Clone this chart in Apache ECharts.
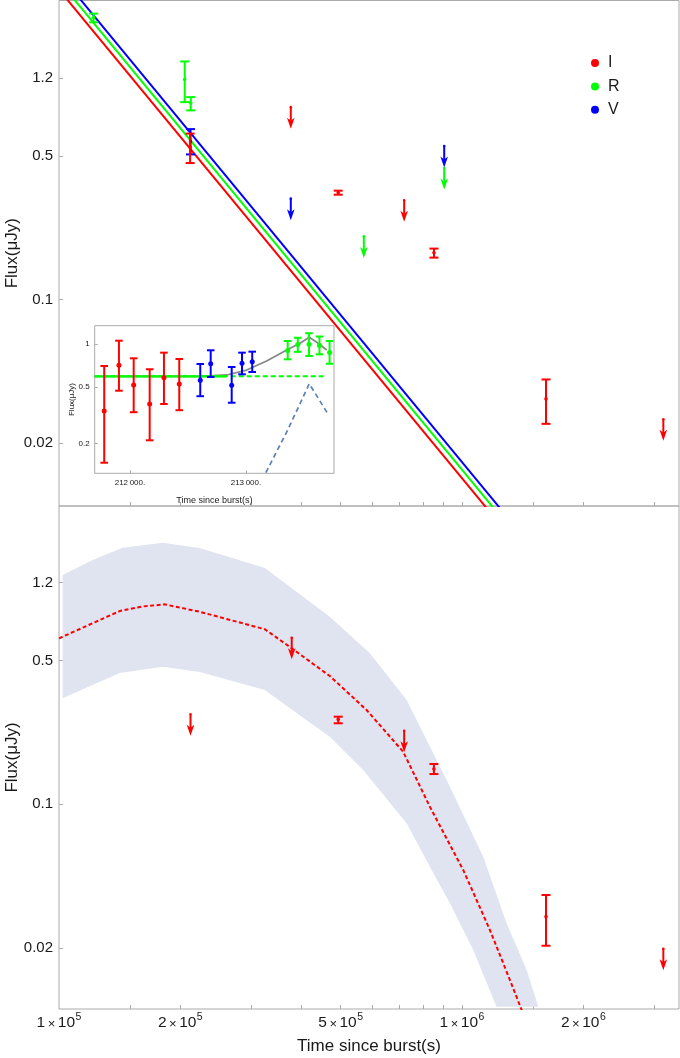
<!DOCTYPE html>
<html><head><meta charset="utf-8">
<script src="https://cdn.jsdelivr.net/npm/echarts@6/dist/echarts.min.js"></script>
<style>html,body{margin:0;padding:0;background:#fff}#c{width:680px;height:1058px}</style>
</head><body><div id="c"></div>
<script>
// ---------------- DATA ----------------
// axis ticks
const xTickVals = [1.5e5, 2e5, 3e5, 4e5, 5e5, 6e5, 7e5, 8e5, 9e5, 1e6, 1.5e6, 2e6, 3e6];
const xLabelVals = [1e5, 2e5, 5e5, 1e6, 2e6];
const yLabelVals = [0.02, 0.1, 0.5, 1.2];
const insetXLabelVals = [212000, 213000];
const insetYLabelVals = [0.2, 0.5, 1];

// top panel: power-law fits (two end points each, clipped by the axes)
const fitTimes = [1.0e5, 1.3e6];
const fitI = [3.23, 0.00722];
const fitR = [3.56, 0.00794];
const fitV = [3.87, 0.00865];

// top panel detections: [time, flux, low, high]
const topI = [[2.115e5, 0.553, 0.462, 0.643], [4.93e5, 0.332, 0.324, 0.339], [8.52e5, 0.169, 0.160, 0.177], [1.616e6, 0.0328, 0.0248, 0.0408]];
const topR = [[1.219e5, 2.36, 2.24, 2.47], [2.051e5, 1.18, 0.915, 1.444], [2.123e5, 0.905, 0.834, 0.968]];
const topV = [[2.12e5, 0.59, 0.509, 0.676]];
// top panel upper limits: [time, flux]
const topIUL = [[3.76e5, 0.865], [7.186e5, 0.304], [3.159e6, 0.0261]];
const topRUL = [[5.707e5, 0.203], [9.033e5, 0.437]];
const topVUL = [[3.76e5, 0.310], [9.033e5, 0.559]];

// bottom panel
const botI = [[4.93e5, 0.259, 0.248, 0.267], [8.517e5, 0.1485, 0.1404, 0.1571], [1.616e6, 0.0284, 0.0205, 0.0362]];
const botIUL = [[2.12e5, 0.274], [3.78e5, 0.647], [7.186e5, 0.228], [3.159e6, 0.0198]];
const modelT = [1.0e5, 1.192e5, 1.415e5, 1.604e5, 1.83e5, 2.235e5, 3.242e5, 3.782e5, 4.699e5, 5.797e5, 7.145e5, 8.324e5, 1.007e6, 1.173e6, 1.315e6, 1.406e6, 1.474e6];
const modelF = [0.642, 0.750, 0.872, 0.917, 0.940, 0.865, 0.711, 0.574, 0.421, 0.2877, 0.1803, 0.0973, 0.0479, 0.02445, 0.01396, 0.00998, 0.00754];
const bandUpT = [1.021e5, 1.212e5, 1.439e5, 1.809e5, 2.235e5, 3.242e5, 4.699e5, 5.906e5, 7.287e5, 9.16e5, 1.129e6, 1.29e6, 1.447e6, 1.546e6];
const bandUpF = [1.306, 1.545, 1.773, 1.875, 1.767, 1.412, 0.818, 0.543, 0.322, 0.1313, 0.0556, 0.02636, 0.01562, 0.01035];
const bandLoT = [1.021e5, 1.415e5, 1.809e5, 2.235e5, 3.242e5, 3.74e5, 4.699e5, 5.684e5, 7.287e5, 8.324e5, 9.333e5, 1.066e6, 1.218e6];
const bandLoF = [0.328, 0.4355, 0.467, 0.4405, 0.3598, 0.2933, 0.2133, 0.1469, 0.0808, 0.0497, 0.033, 0.01954, 0.01035];

// inset
const insetI = [[211778, 0.338, 0.146, 0.700], [211905, 0.708, 0.469, 1.055], [212032, 0.515, 0.331, 0.793], [212170, 0.378, 0.210, 0.664], [212293, 0.579, 0.378, 0.869], [212425, 0.523, 0.342, 0.784]];
const insetV = [[212606, 0.555, 0.429, 0.723], [212696, 0.727, 0.586, 0.903], [212877, 0.512, 0.386, 0.689], [212966, 0.732, 0.612, 0.869], [213054, 0.751, 0.635, 0.883]];
const insetR = [[213360, 0.900, 0.780, 1.05], [213447, 0.992, 0.881, 1.106], [213544, 0.997, 0.823, 1.191], [213634, 0.976, 0.846, 1.129], [213721, 0.871, 0.726, 1.05]];
const insetConstT = [211696, 213681];
const insetConstF = [0.5925, 0.5925];
const insetConstSolidT = [211696, 212830];
const insetTotalT = [211696, 212603, 212834, 213006, 213178, 213351, 213466, 213546, 213623, 213696];
const insetTotalF = [0.5925, 0.5925, 0.605, 0.656, 0.759, 0.907, 1.011, 1.115, 1.011, 0.907];
const insetFlareT = [213138, 213360, 213546, 213703];
const insetFlareF = [0.110, 0.248, 0.5246, 0.3253];

// ---------------- STYLE ----------------
const FONT = '"Liberation Sans", Arial, sans-serif';
const RED = '#ff0000', GREEN = '#00ff00', BLUE = '#0000ff';
const FRAME = '#aaaaaa', TXT = '#1a1a1a';
const zip = (a, b) => a.map((v, i) => [v, b[i]]);

function errBar(color, capHalf, lw, r) {
  return function (params, api) {
    const t = api.value(0);
    const c = api.coord([t, api.value(1)]);
    const lo = api.coord([t, api.value(2)]);
    const hi = api.coord([t, api.value(3)]);
    const x = c[0];
    const st = { stroke: color, lineWidth: lw };
    return { type: 'group', children: [
      { type: 'line', shape: { x1: x, y1: hi[1], x2: x, y2: lo[1] }, style: st },
      { type: 'line', shape: { x1: x - capHalf, y1: hi[1], x2: x + capHalf, y2: hi[1] }, style: st },
      { type: 'line', shape: { x1: x - capHalf, y1: lo[1], x2: x + capHalf, y2: lo[1] }, style: st },
      { type: 'circle', shape: { cx: x, cy: c[1], r: r }, style: { fill: color } }
    ] };
  };
}
function arrow(color) {
  return function (params, api) {
    const p = api.coord([api.value(0), api.value(1)]);
    const x = p[0], y = p[1];
    return { type: 'group', children: [
      { type: 'line', shape: { x1: x, y1: y, x2: x, y2: y + 14 }, style: { stroke: color, lineWidth: 2 } },
      { type: 'circle', shape: { cx: x, cy: y, r: 1.3 }, style: { fill: color } },
      { type: 'polygon', shape: { points: [[x - 3.8, y + 10.5], [x, y + 13.5], [x + 3.8, y + 10.5], [x, y + 21.5]] }, style: { fill: color } }
    ] };
  };
}
function errSeries(data, color, idx, cap, lw, r) {
  return { type: 'custom', xAxisIndex: idx, yAxisIndex: idx, data: data, encode: { x: 0, y: [1, 2, 3] },
    renderItem: errBar(color, cap, lw, r), z: 6, silent: true };
}
function ulSeries(data, color, idx) {
  return { type: 'custom', xAxisIndex: idx, yAxisIndex: idx, data: data, encode: { x: 0, y: 1 },
    renderItem: arrow(color), z: 6, silent: true };
}
function lineSeries(name, t, f, color, idx, width, type, z) {
  return { type: 'line', name: name, xAxisIndex: idx, yAxisIndex: idx, data: zip(t, f), showSymbol: false, symbol: 'none',
    clip: true, silent: true, z: z || 3, lineStyle: { color: color, width: width, type: type || 'solid' }, itemStyle: { color: color } };
}

function xLabelFmt(v) {
  const e = Math.floor(Math.log10(v) + 1e-9);
  const m = Math.round(v / Math.pow(10, e));
  return '{m|' + m + '}{x|×}{m|10}{e|' + e + '}';
}
const xRich = {
  m: { fontSize: 15.5, fontFamily: FONT, color: TXT, verticalAlign: 'bottom', lineHeight: 15 },
  x: { fontSize: 13, fontFamily: FONT, color: TXT, verticalAlign: 'bottom', lineHeight: 15, padding: [0, 2.5, 0, 2.5] },
  e: { fontSize: 10.5, fontFamily: FONT, color: TXT, verticalAlign: 'bottom', lineHeight: 10, padding: [0, 0, 8, 0.5] }
};

function mainX(gridIndex, showLabels) {
  return {
    type: 'log', gridIndex: gridIndex, min: 1e5, max: 3.455e6, logBase: 10,
    axisLine: { show: false },
    axisTick: { show: true, inside: true, length: 4, customValues: xTickVals, lineStyle: { color: FRAME } },
    axisLabel: { show: showLabels, customValues: xLabelVals, formatter: xLabelFmt, rich: xRich, margin: 7 },
    splitLine: { show: false }, minorTick: { show: false },
    name: showLabels ? 'Time since burst(s)' : '', nameLocation: 'middle', nameGap: 29, nameMoveOverlap: false,
    nameTextStyle: { fontSize: 17, fontFamily: FONT, color: TXT }
  };
}
function mainY(gridIndex, min, max) {
  return {
    type: 'log', gridIndex: gridIndex, min: min, max: max, logBase: 10,
    axisLine: { show: false },
    axisTick: { show: true, inside: true, length: 4, customValues: yLabelVals, lineStyle: { color: FRAME } },
    axisLabel: { show: true, customValues: yLabelVals, formatter: v => String(+v.toPrecision(3)), fontSize: 15, fontFamily: FONT, color: TXT, margin: 6 },
    splitLine: { show: false }, minorTick: { show: false },
    name: 'Flux(\u03bcJy)', nameLocation: 'middle', nameGap: 38, nameMoveOverlap: false,
    nameTextStyle: { fontSize: 17, fontFamily: FONT, color: TXT }
  };
}

const option = {
  animation: false,
  backgroundColor: '#ffffff',
  grid: [
    { left: 59, top: 0.5, width: 620, height: 505.5, show: true, borderColor: FRAME, borderWidth: 1, backgroundColor: 'transparent', containLabel: false, outerBoundsMode: 'none' },
    { left: 59, top: 506, width: 620, height: 503, show: true, borderColor: FRAME, borderWidth: 1, backgroundColor: 'transparent', containLabel: false, outerBoundsMode: 'none' },
    { left: 94.7, top: 325.7, width: 239.3, height: 147.6, show: true, borderColor: FRAME, borderWidth: 1, backgroundColor: '#ffffff', z: 4, containLabel: false, outerBoundsMode: 'none' }
  ],
  legend: {
    data: [
      { name: 'I', icon: 'circle', itemStyle: { color: RED } },
      { name: 'R', icon: 'circle', itemStyle: { color: GREEN } },
      { name: 'V', icon: 'circle', itemStyle: { color: BLUE } }
    ],
    orient: 'vertical', left: 591, top: 55, padding: 0, itemWidth: 8, itemHeight: 8, itemGap: 7.4,
    selectedMode: false,
    textStyle: { fontSize: 16, fontFamily: FONT, color: TXT, padding: [0, 0, 0, 4] }
  },
  xAxis: [
    mainX(0, false),
    mainX(1, true),
    {
      type: 'value', gridIndex: 2, min: 211696, max: 213759, z: 5,
      axisLine: { show: false },
      axisTick: { show: true, inside: true, length: 3, customValues: insetXLabelVals, lineStyle: { color: FRAME } },
      axisLabel: { show: true, customValues: insetXLabelVals, formatter: v => String(Math.round(v)).replace(/^(\d{3})(\d{3})$/, '$1\u2009$2') + '.', fontSize: 8, fontFamily: FONT, color: TXT, margin: 5 },
      splitLine: { show: false },
      name: 'Time since burst(s)', nameLocation: 'middle', nameGap: 23, nameMoveOverlap: false,
      nameTextStyle: { fontSize: 9, fontFamily: FONT, color: TXT }
    }
  ],
  yAxis: [
    mainY(0, 0.00987, 2.86),
    mainY(1, 0.01009, 2.83),
    {
      type: 'log', gridIndex: 2, min: 0.123, max: 1.345, logBase: 10, z: 5,
      axisLine: { show: false },
      axisTick: { show: true, inside: true, length: 3, customValues: insetYLabelVals, lineStyle: { color: FRAME } },
      axisLabel: { show: true, customValues: insetYLabelVals, formatter: v => String(+v.toPrecision(2)), fontSize: 8, fontFamily: FONT, color: TXT, margin: 5 },
      splitLine: { show: false }, minorTick: { show: false },
      name: 'Flux(\u03bcJy)', nameLocation: 'middle', nameGap: 19, nameMoveOverlap: false,
      nameTextStyle: { fontSize: 8, fontFamily: FONT, color: TXT }
    }
  ],
  series: [
    // top panel
    lineSeries('I', fitTimes, fitI, RED, 0, 2),
    lineSeries('R', fitTimes, fitR, GREEN, 0, 2),
    lineSeries('V', fitTimes, fitV, BLUE, 0, 2),
    errSeries(topR, GREEN, 0, 4.5, 2, 1.8),
    errSeries(topV, BLUE, 0, 4.5, 2, 1.8),
    errSeries(topI, RED, 0, 4.5, 2, 1.8),
    ulSeries(topIUL, RED, 0),
    ulSeries(topRUL, GREEN, 0),
    ulSeries(topVUL, BLUE, 0),
    // bottom panel
    {
      type: 'custom', xAxisIndex: 1, yAxisIndex: 1, data: [[bandUpT[0], bandUpF[0]]], encode: { x: 0, y: 1 }, z: 1, silent: true, clip: true,
      renderItem: function (params, api) {
        const pts = [];
        for (let i = 0; i < bandUpT.length; i++) pts.push(api.coord([bandUpT[i], bandUpF[i]]));
        for (let i = bandLoT.length - 1; i >= 0; i--) pts.push(api.coord([bandLoT[i], bandLoF[i]]));
        return { type: 'polygon', shape: { points: pts }, style: { fill: '#dfe4f0', stroke: null } };
      }
    },
    lineSeries(null, modelT, modelF, RED, 1, 2, [4, 2.5], 4),
    errSeries(botI, RED, 1, 4.5, 2, 1.8),
    ulSeries(botIUL, RED, 1),
    // inset
    lineSeries(null, insetFlareT, insetFlareF, '#5e81b5', 2, 1.7, [5, 3.5], 7),
    lineSeries(null, insetTotalT, insetTotalF, '#888888', 2, 1.8, 'solid', 7),
    lineSeries(null, insetConstT, insetConstF, GREEN, 2, 2, [5, 3], 7),
    lineSeries(null, insetConstSolidT, insetConstF, GREEN, 2, 2.2, 'solid', 7),
    Object.assign(errSeries(insetI, RED, 2, 3.8, 2, 2.5), { z: 8 }),
    Object.assign(errSeries(insetV, BLUE, 2, 3.8, 2, 2.5), { z: 8 }),
    Object.assign(errSeries(insetR, GREEN, 2, 3.8, 2, 2.5), { z: 8 })
  ]
};
const chart = echarts.init(document.getElementById('c'), null, { renderer: 'canvas' });
chart.setOption(option);
</script></body></html>
